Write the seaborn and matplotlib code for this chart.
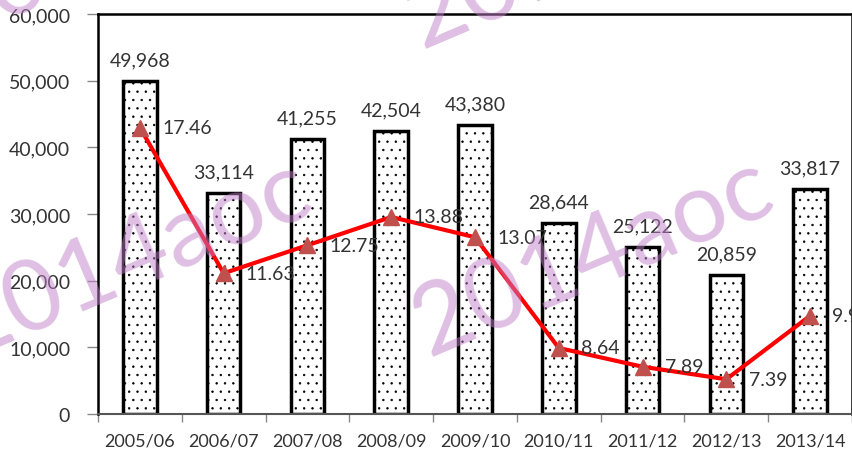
import matplotlib
matplotlib.use("Agg")
import matplotlib.pyplot as plt
import matplotlib.ticker as mticker
import seaborn as sns
import pandas as pd

# data
years = ["2005/06", "2006/07", "2007/08", "2008/09", "2009/10",
         "2010/11", "2011/12", "2012/13", "2013/14"]
counts = [49968, 33114, 41255, 42504, 43380, 28644, 25122, 20859, 33817]
rates = [17.46, 11.63, 12.75, 13.88, 13.07, 8.64, 7.89, 7.39, 9.93]

def main():
    sns.set_theme(style="white")
    plt.rcParams.update({
        "font.family": ["Lato", "DejaVu Sans"],
        "hatch.linewidth": 0.5,
        "hatch.color": "black",
    })
    txt = "#333333"

    df = pd.DataFrame({"year": years, "count": counts, "rate": rates})

    fig = plt.figure(figsize=(8.53, 4.52), dpi=100)
    ax = fig.add_axes([98 / 853, 1 - 415 / 452, (852 - 98) / 853, (415 - 15) / 452])

    sns.barplot(data=df, x="year", y="count", color="white", width=0.4,
                edgecolor="black", linewidth=2.5, saturation=1, ax=ax)
    for p in ax.patches:
        p.set_hatch("..")
        p.set_facecolor("white")

    ax.set_xlim(-0.5, len(years) - 0.5)
    ax.set_ylim(0, 60000)
    ax.set_yticks(range(0, 60001, 10000))
    ax.yaxis.set_major_formatter(mticker.FuncFormatter(lambda v, _: f"{int(v):,}"))
    ax.set_xlabel("")
    ax.set_ylabel("")
    ax.tick_params(axis="y", labelsize=14, colors="#888888", labelcolor=txt,
                   length=8, width=1, direction="out", pad=12, left=True)
    ax.tick_params(axis="x", which="major", labelsize=13, labelcolor=txt,
                   length=0, pad=13)
    ax.set_xticks([i - 0.5 for i in range(len(years) + 1)], minor=True)
    ax.tick_params(axis="x", which="minor", length=6, width=1,
                   colors="#888888", direction="out", bottom=True)
    for side in ["top", "right", "left"]:
        ax.spines[side].set_color("black")
        ax.spines[side].set_linewidth(1.8)
    ax.spines["bottom"].set_color("#555555")
    ax.spines["bottom"].set_linewidth(1.5)

    for i, v in enumerate(counts):
        ax.annotate(f"{v:,}", (i, v), xytext=(0, 9), textcoords="offset points",
                    ha="center", va="bottom", fontsize=14, color=txt)

    ax2 = ax.twinx()
    sns.lineplot(x=list(range(len(years))), y=rates, color="#ff0000",
                 linewidth=3, ax=ax2, zorder=3)
    ax2.plot(range(len(years)), rates, linestyle="none", marker="^",
             markersize=11, color="#c0504d", zorder=4)
    ax2.set_ylim(6, 22)
    ax2.set_yticks([])
    ax2.set_ylabel("")
    for s in ax2.spines.values():
        s.set_visible(False)
    for i, r in enumerate(rates):
        ax2.annotate(f"{r:.2f}", (i, r), xytext=(16, 0), textcoords="offset points",
                     ha="left", va="center", fontsize=14, color=txt,
                     annotation_clip=False)

    # watermark
    for cx, cy in [(130, 258), (592, 256), (585, -52), (112, -58)]:
        fig.text(cx / 853, 1 - cy / 452, "2014aoc", fontsize=71, rotation=23,
                 color="#c080c8", alpha=0.5, ha="center", va="center",
                 zorder=10)

    fig.savefig("out.png", dpi=100)
    plt.close(fig)

if __name__ == "__main__":
    main()
